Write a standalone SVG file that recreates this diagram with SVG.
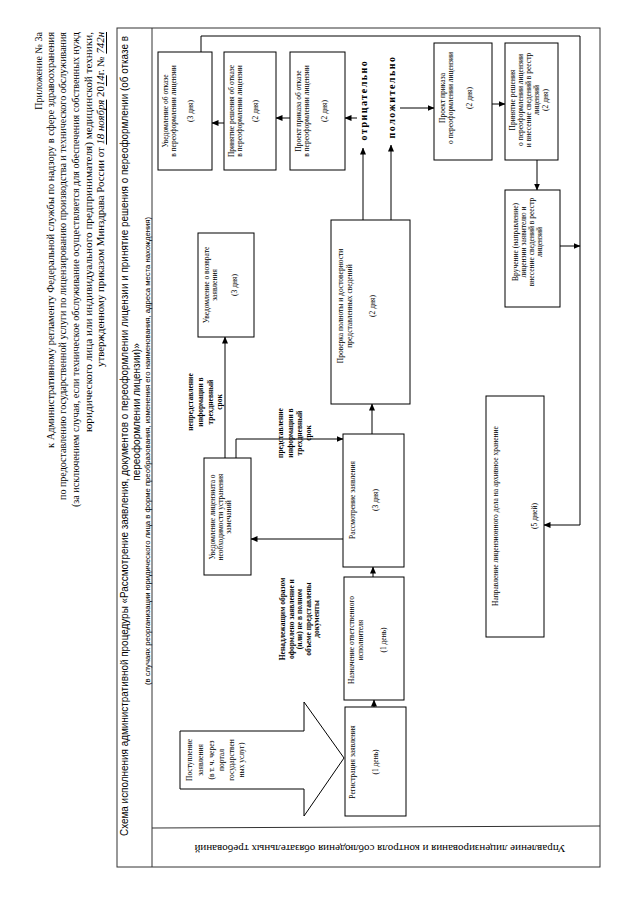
<svg xmlns="http://www.w3.org/2000/svg" width="640" height="905" viewBox="0 0 640 905">
<style>
text{fill:#000}
.hd{font-family:"Liberation Serif",serif;font-size:10px;text-anchor:end;dominant-baseline:central}
.tt{font-family:"Liberation Sans",sans-serif;font-size:10px;text-anchor:middle;dominant-baseline:central}
.st{font-family:"Liberation Sans",sans-serif;font-size:7.5px;text-anchor:middle;dominant-baseline:central}
.bx{font-family:"Liberation Serif",serif;font-size:7.5px;text-anchor:middle;dominant-baseline:central}
.lb{font-family:"Liberation Serif",serif;font-size:7.5px;font-weight:bold;text-anchor:middle;dominant-baseline:central}
.dc{font-family:"Liberation Serif",serif;font-size:10px;font-weight:bold;text-anchor:middle;dominant-baseline:central;letter-spacing:1.5px}
.hw{font-style:italic;text-decoration:underline}
.box{fill:#fff;stroke:#000;stroke-width:1}
.frm{fill:none;stroke:#333;stroke-width:1}
.cn{fill:none;stroke:#000;stroke-width:1}
.ar{marker-end:url(#ah)}
</style>
<defs>
<marker id="ah" markerWidth="7" markerHeight="6" refX="6.5" refY="3" orient="auto" markerUnits="userSpaceOnUse"><path d="M0,0 L7,3 L0,6 z" fill="#000"/></marker>
</defs>
<rect width="640" height="905" fill="#fff"/>

<g id="header">
<text class="hd" transform="translate(38,32) rotate(-90)">Приложение № 3а</text>
<text class="hd" transform="translate(50,32) rotate(-90)" textLength="416" lengthAdjust="spacingAndGlyphs">к Административному регламенту Федеральной службы по надзору в сфере здравоохранения</text>
<text class="hd" transform="translate(62,32) rotate(-90)" textLength="468" lengthAdjust="spacingAndGlyphs">по предоставлению государственной услуги по лицензированию производства и технического обслуживания</text>
<text class="hd" transform="translate(75,32) rotate(-90)" textLength="475" lengthAdjust="spacingAndGlyphs">(за исключением случая, если техническое обслуживание осуществляется для обеспечения собственных нужд</text>
<text class="hd" transform="translate(88,32) rotate(-90)" textLength="400" lengthAdjust="spacingAndGlyphs">юридического лица или индивидуального предпринимателя) медицинской техники,</text>
<text class="hd" transform="translate(100,32) rotate(-90)" textLength="335" lengthAdjust="spacingAndGlyphs">утвержденному приказом Минздрава России  от <tspan class="hw">18 ноября</tspan> 20<tspan class="hw">14</tspan>г. № <tspan class="hw">742н</tspan></text>
</g>

<g id="frame">
<rect class="frm" x="117" y="28" width="483" height="839"/>
<line class="frm" x1="152" y1="28" x2="152" y2="867"/>
<line class="frm" x1="152" y1="828" x2="600" y2="826"/>
<text class="tt" transform="translate(124.5,436) rotate(-90)" textLength="800" lengthAdjust="spacingAndGlyphs">Схема исполнения административной процедуры «Рассмотрение заявления, документов о переоформлении лицензии и принятие решения о переоформлении (об отказе в</text>
<text class="tt" transform="translate(136,412) rotate(-90)">переоформлении лицензии)»</text>
<text class="st" transform="translate(147,451) rotate(-90)" textLength="468" lengthAdjust="spacingAndGlyphs">(в случаях реорганизации юридического лица в форме преобразования, изменения его наименования, адреса места нахождения)</text>
<text class="hd" style="text-anchor:middle" transform="translate(380,848) rotate(180)" textLength="371" lengthAdjust="spacingAndGlyphs">Управление лицензирования и контроля соблюдения обязательных требований</text>
</g>

<g id="connectors">
<line class="cn ar" x1="290" y1="118" x2="276" y2="118"/>
<line class="cn ar" x1="224" y1="123" x2="212" y2="123"/>
<line class="cn ar" x1="357" y1="118" x2="345" y2="118"/>
<line class="cn ar" x1="363" y1="220" x2="363" y2="148"/>
<line class="cn ar" x1="391" y1="220" x2="391" y2="145"/>
<line class="cn ar" x1="400" y1="108" x2="434" y2="108"/>
<line class="cn ar" x1="492" y1="104" x2="505" y2="104"/>
<line class="cn ar" x1="537" y1="160" x2="537" y2="190"/>
<line class="cn ar" x1="560" y1="246" x2="580" y2="246"/>
<polyline class="cn ar" points="201,52 201,36 580,36 580,525 544,525"/>
<line class="cn ar" x1="372" y1="434" x2="372" y2="404"/>
<line class="cn ar" x1="373" y1="577" x2="373" y2="567"/>
<line class="cn ar" x1="374" y1="707" x2="374" y2="700"/>
<line class="cn ar" x1="343" y1="539" x2="251" y2="539"/>
<line class="cn ar" x1="225" y1="458" x2="225" y2="337"/>
<polyline class="cn ar" points="236,458 236,439 343,439"/>
</g>

<g id="n-refusal-notice">
<rect class="box" x="158" y="52" width="54" height="118"/>
<text class="bx" transform="translate(165,111) rotate(-90)">Уведомление об отказе</text>
<text class="bx" transform="translate(173,111) rotate(-90)">в переоформлении лицензии</text>
<text class="bx" transform="translate(190,111) rotate(-90)">(3 дня)</text>
</g>
<g id="n-refusal-decision">
<rect class="box" x="224" y="52" width="52" height="118"/>
<text class="bx" transform="translate(231,111) rotate(-90)">Принятие решения об отказе</text>
<text class="bx" transform="translate(239,111) rotate(-90)">в переоформлении лицензии</text>
<text class="bx" transform="translate(255,111) rotate(-90)">(2 дня)</text>
</g>
<g id="n-refusal-order">
<rect class="box" x="290" y="52" width="55" height="118"/>
<text class="bx" transform="translate(298,111) rotate(-90)">Проект приказа об отказе</text>
<text class="bx" transform="translate(306,111) rotate(-90)">в переоформлении лицензии</text>
<text class="bx" transform="translate(324,111) rotate(-90)">(2 дня)</text>
</g>
<g id="n-negative">
<text class="dc" transform="translate(363,100) rotate(-90)">отрицательно</text>
</g>
<g id="n-positive">
<text class="dc" transform="translate(391,97) rotate(-90)">положительно</text>
</g>
<g id="n-order">
<rect class="box" x="434" y="43" width="58" height="117"/>
<text class="bx" transform="translate(442,98) rotate(-90)">Проект приказа</text>
<text class="bx" transform="translate(450,98) rotate(-90)">о переоформлении лицензии</text>
<text class="bx" transform="translate(469,98) rotate(-90)">(2 дня)</text>
</g>
<g id="n-decision">
<rect class="box" x="505" y="43" width="53" height="117"/>
<text class="bx" transform="translate(512,100) rotate(-90)">Принятие решения</text>
<text class="bx" transform="translate(520,100) rotate(-90)">о переоформлении лицензии</text>
<text class="bx" transform="translate(528,100) rotate(-90)">и внесение сведений в реестр</text>
<text class="bx" transform="translate(536,100) rotate(-90)">лицензий</text>
<text class="bx" transform="translate(545,100) rotate(-90)">(2 дня)</text>
</g>
<g id="n-issue">
<rect class="box" x="505" y="190" width="55" height="117"/>
<text class="bx" transform="translate(515,242) rotate(-90)">Вручение (направление)</text>
<text class="bx" transform="translate(523,242) rotate(-90)">лицензии заявителю и</text>
<text class="bx" transform="translate(531,242) rotate(-90)">внесение сведений в реестр</text>
<text class="bx" transform="translate(539,242) rotate(-90)">лицензий</text>
</g>
<g id="n-check">
<rect class="box" x="331" y="220" width="79" height="184"/>
<text class="bx" transform="translate(340,306) rotate(-90)">Проверка полноты и достоверности</text>
<text class="bx" transform="translate(349,306) rotate(-90)">представленных сведений</text>
<text class="bx" transform="translate(372,306) rotate(-90)">(2 дня)</text>
</g>
<g id="n-return">
<rect class="box" x="198" y="233" width="56" height="104"/>
<text class="bx" transform="translate(206,285) rotate(-90)">Уведомление о возврате</text>
<text class="bx" transform="translate(214,285) rotate(-90)">заявления</text>
<text class="bx" transform="translate(234,285) rotate(-90)">(3 дня)</text>
</g>
<g id="n-remarks">
<rect class="box" x="204" y="458" width="47" height="117"/>
<text class="bx" transform="translate(212,517) rotate(-90)">Уведомление лицензиата о</text>
<text class="bx" transform="translate(220,517) rotate(-90)">необходимости устранения</text>
<text class="bx" transform="translate(228,517) rotate(-90)">замечаний</text>
</g>
<g id="n-review">
<rect class="box" x="343" y="434" width="61" height="133"/>
<text class="bx" transform="translate(352,500) rotate(-90)">Рассмотрение заявления</text>
<text class="bx" transform="translate(375,500) rotate(-90)">(3 дня)</text>
</g>
<g id="n-assign">
<rect class="box" x="344" y="577" width="60" height="123"/>
<text class="bx" transform="translate(351,640) rotate(-90)">Назначение ответственного</text>
<text class="bx" transform="translate(360,640) rotate(-90)">исполнителя</text>
<text class="bx" transform="translate(383,640) rotate(-90)">(1 день)</text>
</g>
<g id="n-register">
<rect class="box" x="345" y="707" width="61" height="109"/>
<text class="bx" transform="translate(352,762) rotate(-90)">Регистрация заявления</text>
<text class="bx" transform="translate(375,762) rotate(-90)">(1 день)</text>
</g>
<g id="n-archive">
<rect class="box" x="486" y="396" width="58" height="241"/>
<text class="bx" transform="translate(495,516) rotate(-90)">Направление лицензионного дела на архивное хранение</text>
<text class="bx" transform="translate(534,516) rotate(-90)">(5 дней)</text>
</g>
<g id="n-receipt">
<polygon class="box" points="180,731 304,731 304,702 344,758 304,816 304,789 180,789"/>
<text class="bx" transform="translate(189,760) rotate(-90)">Поступление</text>
<text class="bx" transform="translate(200,760) rotate(-90)">заявления</text>
<text class="bx" transform="translate(211,760) rotate(-90)">(в т. ч. через</text>
<text class="bx" transform="translate(221,760) rotate(-90)">портал</text>
<text class="bx" transform="translate(231,760) rotate(-90)">государствен</text>
<text class="bx" transform="translate(241,760) rotate(-90)">ных услуг)</text>
</g>
<g id="l-nonsubmit">
<text class="lb" transform="translate(190,402) rotate(-90)">непредставление</text>
<text class="lb" transform="translate(200,402) rotate(-90)">информации в</text>
<text class="lb" transform="translate(210,402) rotate(-90)">трехдневный</text>
<text class="lb" transform="translate(219,402) rotate(-90)">срок</text>
</g>
<g id="l-submit">
<text class="lb" transform="translate(280,433) rotate(-90)">представление</text>
<text class="lb" transform="translate(290,433) rotate(-90)">информации в</text>
<text class="lb" transform="translate(299,433) rotate(-90)">трехдневный</text>
<text class="lb" transform="translate(308,433) rotate(-90)">срок</text>
</g>
<g id="l-improper">
<text class="lb" transform="translate(282,619) rotate(-90)">Ненадлежащим образом</text>
<text class="lb" transform="translate(291,619) rotate(-90)">оформлено заявление и</text>
<text class="lb" transform="translate(299.5,619) rotate(-90)">(или) не в полном</text>
<text class="lb" transform="translate(308,619) rotate(-90)">объеме представлены</text>
<text class="lb" transform="translate(316.5,619) rotate(-90)">документы</text>
</g>
</svg>
